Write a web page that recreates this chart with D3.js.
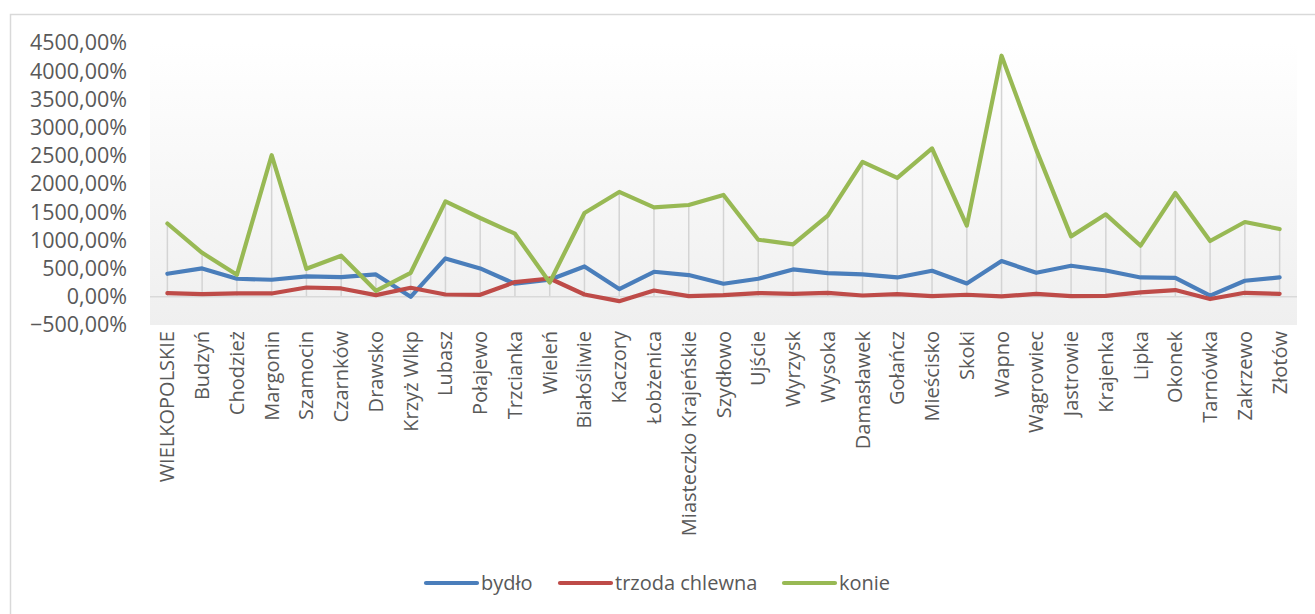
<!DOCTYPE html>
<html>
<head>
<meta charset="utf-8">
<script src="https://cdn.jsdelivr.net/npm/d3@7"></script>
<style>
  body { margin: 0; background: #fff; }
  svg text { font-family: "Open Sans", sans-serif; fill: #595959; }
</style>
</head>
<body>
<div id="chart"></div>
<script>
// categories (gminy)
const categories = ["WIELKOPOLSKIE", "Budzyń", "Chodzież", "Margonin", "Szamocin", "Czarnków",
    "Drawsko", "Krzyż Wlkp", "Lubasz", "Połajewo", "Trzcianka", "Wieleń", "Białośliwie", "Kaczory",
    "Łobżenica", "Miasteczko Krajeńskie", "Szydłowo", "Ujście", "Wyrzysk", "Wysoka", "Damasławek",
    "Gołańcz", "Mieścisko", "Skoki", "Wapno", "Wągrowiec", "Jastrowie", "Krajenka", "Lipka",
    "Okonek", "Tarnówka", "Zakrzewo", "Złotów"];

// values in percent
const bydlo = [408, 503, 320, 302, 361, 350, 396, 0, 680, 503, 231, 302, 538, 137, 444, 385, 231,
    320, 485, 420, 396, 343, 462, 237, 634, 426, 551, 467, 343, 337, 20, 284, 343];
const trzoda = [66, 48, 62, 59, 165, 148, 30, 160, 41, 35, 261, 325, 41, -77, 112, 12, 30,
    66, 53, 71, 23, 48, 12, 36, 6, 53, 12, 18, 77, 119, -40, 71, 53];
const konie = [1300, 780, 390, 2510, 497, 728, 107, 426, 1693, 1397, 1119, 254, 1486, 1859, 1586,
    1628, 1806, 1012, 929, 1439, 2392, 2108, 2630, 1261, 4275, 2605, 1071, 1462, 906, 1841, 989,
    1326, 1202];

const yTicks = [-500, 0, 500, 1000, 1500, 2000, 2500, 3000, 3500, 4000, 4500];

const seriesNames = ["bydło", "trzoda chlewna", "konie"];
const seriesColors = ["#4a7ebb", "#be4b48", "#98b954"];
const seriesData = [bydlo, trzoda, konie];

const width = 1315, height = 614;
const margin = { top: 43, right: 18, bottom: 289, left: 150 };
const chartWidth = width - margin.left - margin.right;
const chartHeight = height - margin.top - margin.bottom;

const svg = d3.select("#chart").append("svg")
    .attr("width", width)
    .attr("height", height);

// outer chart border
svg.append("rect")
    .attr("x", 10.5).attr("y", 14.5)
    .attr("width", width).attr("height", height)
    .attr("fill", "none")
    .attr("stroke", "#d9d9d9")
    .attr("stroke-width", 1.5);

const defs = svg.append("defs");
const grad = defs.append("linearGradient")
    .attr("id", "plotBg")
    .attr("x1", 0).attr("y1", 0).attr("x2", 0).attr("y2", 1);
grad.append("stop").attr("offset", "0%").attr("stop-color", "#ffffff");
grad.append("stop").attr("offset", "100%").attr("stop-color", "#efefef");

const g = svg.append("g")
    .attr("transform", `translate(${margin.left},${margin.top})`);

const x = d3.scaleBand()
    .domain(categories)
    .range([0, chartWidth]);

const y = d3.scaleLinear()
    .domain([-500, 4500])
    .range([chartHeight, 0]);

g.append("rect")
    .attr("width", chartWidth)
    .attr("height", chartHeight)
    .attr("fill", "url(#plotBg)");

const cx = d => x(d) + x.bandwidth() / 2;

// drop lines from the highest point to the category axis
g.selectAll("line.drop")
    .data(categories)
    .enter()
    .append("line")
    .attr("class", "drop")
    .attr("x1", d => cx(d))
    .attr("x2", d => cx(d))
    .attr("y1", (d, i) => y(Math.max(bydlo[i], trzoda[i], konie[i])))
    .attr("y2", y(0))
    .attr("stroke", "#d4d4d4")
    .attr("stroke-width", 1.5);

// zero axis line
g.append("line")
    .attr("x1", 0).attr("x2", chartWidth)
    .attr("y1", y(0)).attr("y2", y(0))
    .attr("stroke", "#d9d9d9")
    .attr("stroke-width", 1.5);

// y axis labels
const yAxis = g.append("g")
    .call(d3.axisLeft(y).tickValues(yTicks).tickSize(0).tickPadding(23)
        .tickFormat(d => d3.format(".2f")(d).replace(".", ",") + "%"));
yAxis.select(".domain").remove();
yAxis.selectAll("text")
    .style("font-size", "21.5px")
    .attr("fill", "#595959");

// x axis labels
const xAxis = g.append("g")
    .attr("transform", `translate(0,${chartHeight})`)
    .call(d3.axisBottom(x).tickSize(0).tickPadding(0));
xAxis.select(".domain").remove();
xAxis.selectAll("text")
    .style("font-size", "20px")
    .attr("fill", "#595959")
    .attr("transform", "rotate(-90)")
    .attr("x", -6)
    .attr("y", 0)
    .attr("dy", "0.35em")
    .style("text-anchor", "end");

// lines
const line = d3.line()
    .x((d, i) => cx(categories[i]))
    .y(d => y(d));

seriesData.forEach((s, k) => {
    g.append("path")
        .datum(s)
        .attr("fill", "none")
        .attr("stroke", seriesColors[k])
        .attr("stroke-width", 4.2)
        .attr("stroke-linejoin", "round")
        .attr("stroke-linecap", "round")
        .attr("d", line);
});

// legend
const legendItems = [
    { label: seriesNames[0], color: seriesColors[0], x: 426 },
    { label: seriesNames[1], color: seriesColors[1], x: 560 },
    { label: seriesNames[2], color: seriesColors[2], x: 784 }
];
const legend = svg.append("g").attr("transform", "translate(0,583)");
legendItems.forEach(d => {
    legend.append("line")
        .attr("x1", d.x).attr("x2", d.x + 51)
        .attr("y1", 0).attr("y2", 0)
        .attr("stroke", d.color)
        .attr("stroke-width", 4.2)
        .attr("stroke-linecap", "round");
    legend.append("text")
        .attr("x", d.x + 55)
        .attr("y", 0)
        .attr("dy", "0.35em")
        .style("font-size", "20px")
        .text(d.label);
});
</script>
</body>
</html>
